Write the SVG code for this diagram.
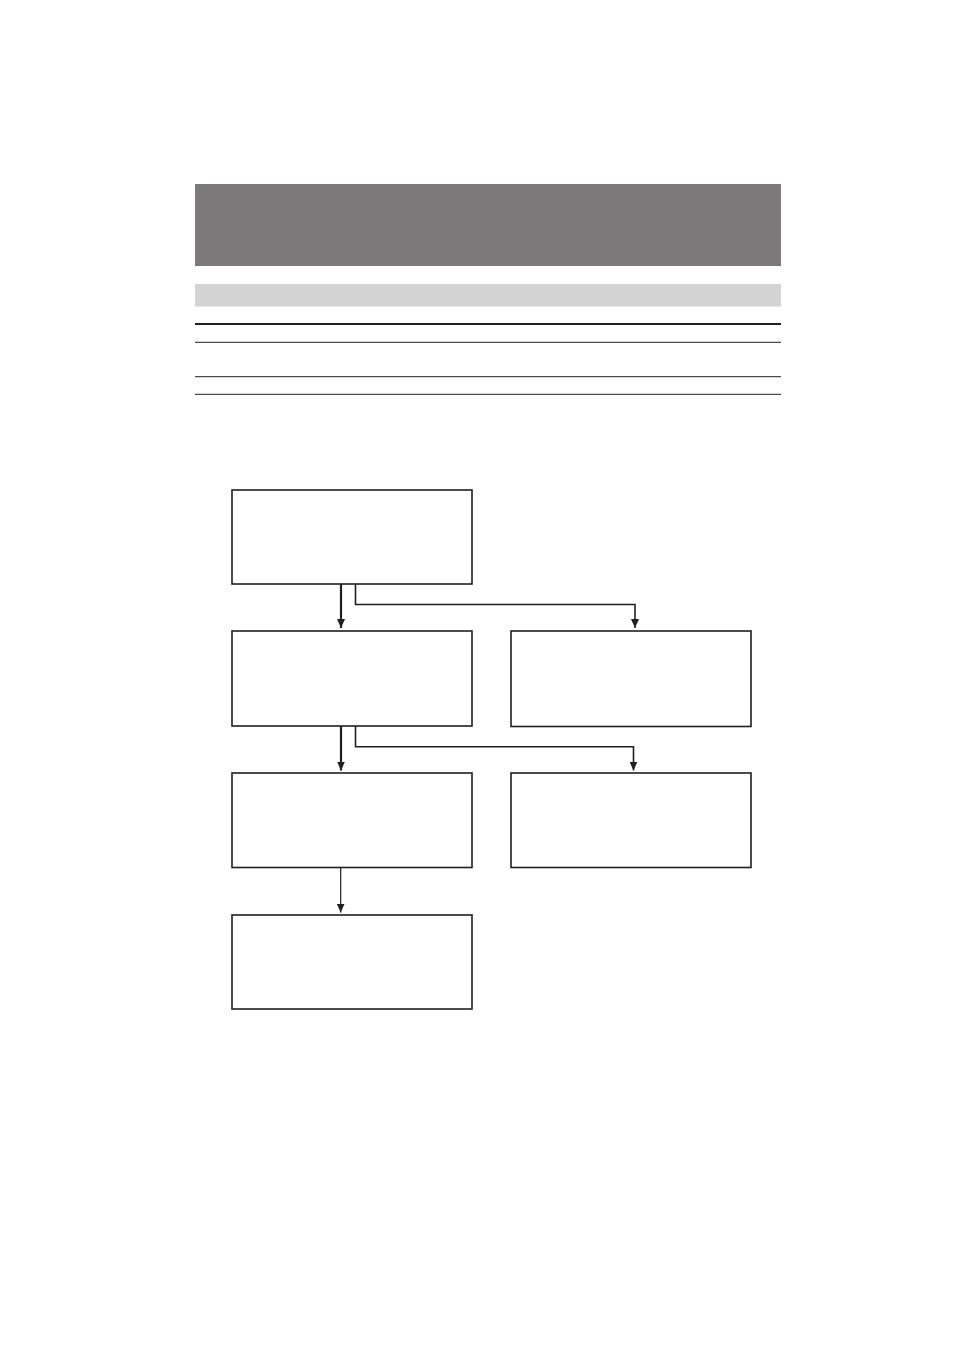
<svg xmlns="http://www.w3.org/2000/svg" width="954" height="1351" viewBox="0 0 954 1351">
<style>
.node{fill:#fff;stroke:#231f20;stroke-width:1.6}
.rule{stroke:#231f20;fill:none}
.conn{stroke:#231f20;fill:none}
</style>
<defs>
<marker id="ah" markerUnits="userSpaceOnUse" markerWidth="9" markerHeight="8" viewBox="0 0 9 8" refX="9" refY="4" orient="auto">
<path d="M0,0 L9,4 L0,8 Z" fill="#231f20"/>
</marker>
</defs>
<rect width="954" height="1351" fill="#fff"/>
<g id="header">
<rect x="195" y="184" width="586" height="82" fill="#7b797a"/>
<rect x="195" y="284" width="586" height="22.5" fill="#d3d3d3"/>
<line class="rule" x1="195" y1="324" x2="781" y2="324" stroke-width="2"/>
<line class="rule" x1="195" y1="342.3" x2="781" y2="342.3" stroke-width="1"/>
<line class="rule" x1="195" y1="376.7" x2="781" y2="376.7" stroke-width="1"/>
<line class="rule" x1="195" y1="394.3" x2="781" y2="394.3" stroke-width="1"/>
</g>
<g id="node1"><rect class="node" x="232" y="490" width="240" height="94"/></g>
<g id="node2"><rect class="node" x="232" y="631" width="240" height="95"/></g>
<g id="node3"><rect class="node" x="511" y="631" width="240" height="95.5"/></g>
<g id="node4"><rect class="node" x="232" y="773" width="240" height="94.5"/></g>
<g id="node5"><rect class="node" x="511" y="773" width="240" height="94.5"/></g>
<g id="node6"><rect class="node" x="232" y="915" width="240" height="94"/></g>
<g id="connectors">
<path class="conn" d="M341,584 V628" stroke-width="2.2" marker-end="url(#ah)"/>
<path class="conn" d="M355.5,584 V604.5 H635 V628" stroke-width="1.6" marker-end="url(#ah)"/>
<path class="conn" d="M341,726 V770.5" stroke-width="2.2" marker-end="url(#ah)"/>
<path class="conn" d="M355.5,726 V746.7 H633.5 V770.5" stroke-width="1.6" marker-end="url(#ah)"/>
<path class="conn" d="M340.7,867.5 V912.5" stroke-width="1.2" marker-end="url(#ah)"/>
</g>
</svg>
